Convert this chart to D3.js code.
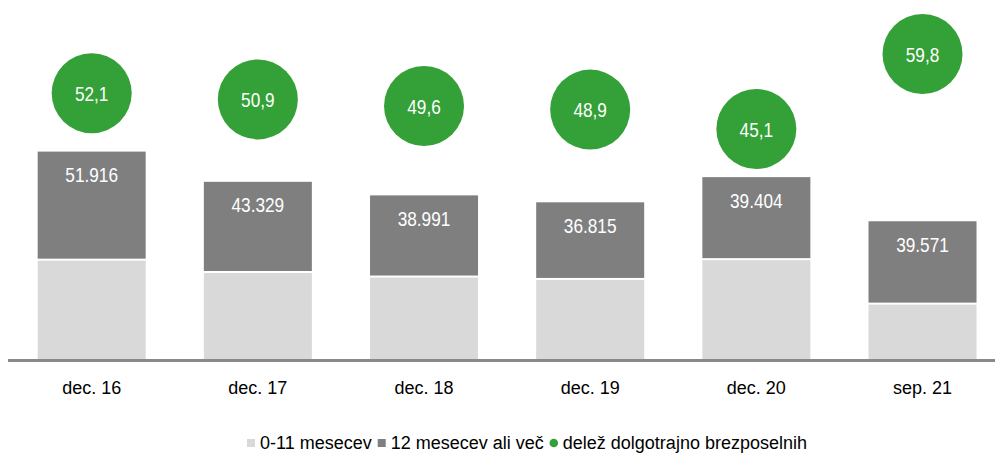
<!DOCTYPE html>
<html lang="sl">
  <head>
    <meta charset="UTF-8" />
    <script src="https://d3js.org/d3.v7.min.js"></script>
    <title>Dolgotrajno brezposelni</title>
    <style>
      body { margin: 0; background: #fff; }
      text { font-family: "Liberation Sans", Arial, sans-serif; }
    </style>
  </head>
  <body>
    <div id="chart"></div>
    <script>
      // podatki
      var categories = ["dec. 16", "dec. 17", "dec. 18", "dec. 19", "dec. 20", "sep. 21"];
      var shortTerm = [47730, 41800, 39620, 38470, 47970, 26600]; // 0-11 mesecev
      var longTerm = [51916, 43329, 38991, 36815, 39404, 39571]; // 12 mesecev ali več
      var share = [52.1, 50.9, 49.6, 48.9, 45.1, 59.8]; // delež dolgotrajno brezposelnih

      var legendLabels = ["0-11 mesecev", "12 mesecev ali več", "delež dolgotrajno brezposelnih"];

      var width = 995,
        height = 453,
        base = 359;

      var colLight = "#d9d9d9",
        colDark = "#7f7f7f",
        colGreen = "#34a038";

      var svg = d3.select("#chart").append("svg")
        .attr("width", width)
        .attr("height", height);

      var x = d3.scaleBand()
        .domain(categories)
        .range([8.6, 1005.6])
        .paddingInner(0.35)
        .paddingOuter(0.175);

      var y = d3.scaleLinear().domain([0, 172000]).range([base, 1]);
      var y2 = d3.scaleLinear().domain([0, 70]).range([base, 2]);

      var rows = categories.map(function (c, i) {
        return { cat: c, s: shortTerm[i], l: longTerm[i], p: share[i] };
      });

      var fmtThousands = d3.formatLocale({ decimal: ",", thousands: ".", grouping: [3], currency: ["", "€"] }).format(",d");
      var fmtShare = function (v) { return v.toFixed(1).replace(".", ","); };

      var g = svg.append("g");

      // spodnji del (0-11 mesecev)
      g.selectAll("rect.short").data(rows).enter().append("rect")
        .attr("class", "short")
        .attr("x", function (d) { return x(d.cat); })
        .attr("width", x.bandwidth())
        .attr("y", function (d) { return y(d.s) + 1; })
        .attr("height", function (d) { return base - y(d.s) - 1; })
        .attr("fill", colLight);

      // zgornji del (12 mesecev ali več)
      g.selectAll("rect.long").data(rows).enter().append("rect")
        .attr("class", "long")
        .attr("x", function (d) { return x(d.cat); })
        .attr("width", x.bandwidth())
        .attr("y", function (d) { return y(d.s + d.l); })
        .attr("height", function (d) { return y(d.s) - 1 - y(d.s + d.l); })
        .attr("fill", colDark);

      g.selectAll("text.long").data(rows).enter().append("text")
        .attr("class", "long")
        .attr("transform", function (d) {
          return "translate(" + (x(d.cat) + x.bandwidth() / 2) + "," + (y(d.s + d.l) + 30.5) + ") scale(0.82,1)";
        })
        .attr("text-anchor", "middle")
        .attr("font-size", 21)
        .attr("fill", "#fff")
        .text(function (d) { return fmtThousands(d.l); });

      // os
      svg.append("line")
        .attr("x1", 8).attr("x2", width)
        .attr("y1", base + 1.5).attr("y2", base + 1.5)
        .attr("stroke", "#898989")
        .attr("stroke-width", 3);

      g.selectAll("text.cat").data(rows).enter().append("text")
        .attr("class", "cat")
        .attr("x", function (d) { return x(d.cat) + x.bandwidth() / 2; })
        .attr("y", 394)
        .attr("text-anchor", "middle")
        .attr("font-size", 18)
        .attr("fill", "#000")
        .text(function (d) { return d.cat; });

      // delež - krogi
      var dots = g.selectAll("g.dot").data(rows).enter().append("g")
        .attr("class", "dot")
        .attr("transform", function (d) {
          return "translate(" + (x(d.cat) + x.bandwidth() / 2) + "," + y2(d.p) + ")";
        });

      dots.append("circle").attr("r", 40).attr("fill", colGreen);

      dots.append("text")
        .attr("transform", "scale(0.82,1)")
        .attr("text-anchor", "middle")
        .attr("dy", "0.36em")
        .attr("font-size", 21)
        .attr("fill", "#fff")
        .text(function (d) { return fmtShare(d.p); });

      // legenda
      var legend = svg.append("g").attr("transform", "translate(247,0)");
      var lx = 0;
      legendLabels.forEach(function (lbl, i) {
        if (i < 2) {
          legend.append("rect")
            .attr("x", lx).attr("y", 439)
            .attr("width", 8).attr("height", 8)
            .attr("fill", i === 0 ? colLight : colDark);
        } else {
          legend.append("circle")
            .attr("cx", lx + 4).attr("cy", 443)
            .attr("r", 4.3)
            .attr("fill", colGreen);
        }
        var t = legend.append("text")
          .attr("x", lx + 13)
          .attr("y", 449)
          .attr("font-size", 18)
          .attr("fill", "#000")
          .text(lbl);
        lx += 13 + t.node().getComputedTextLength() + 6;
      });
    </script>
  </body>
</html>
